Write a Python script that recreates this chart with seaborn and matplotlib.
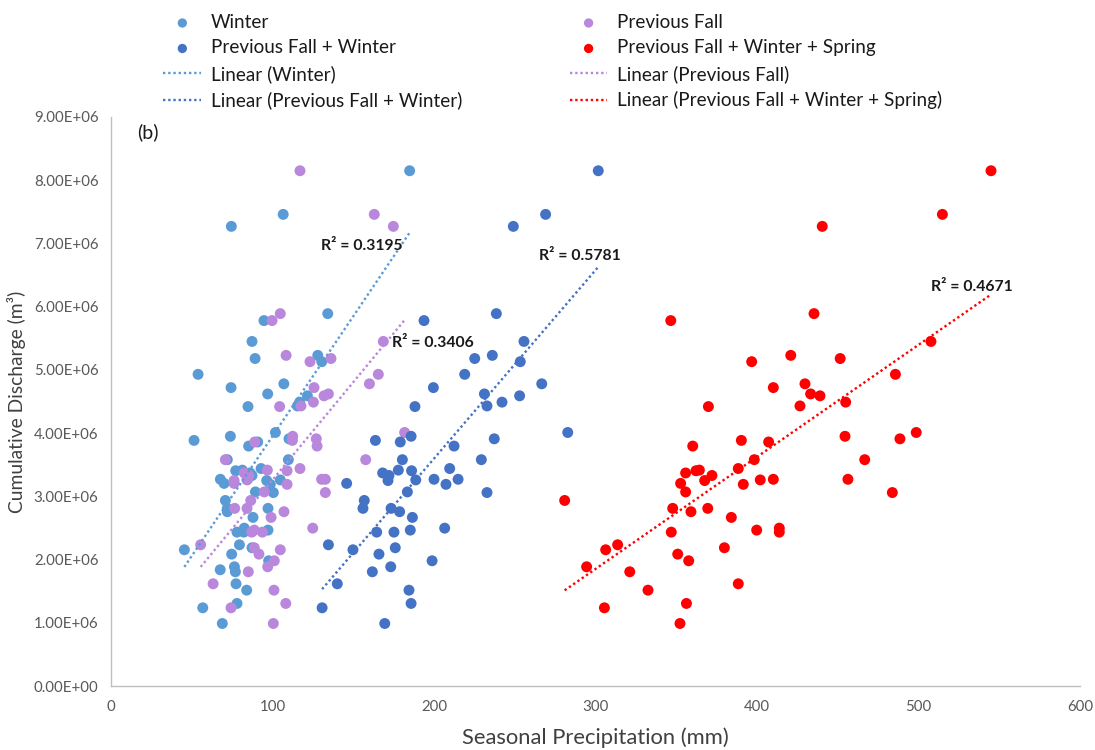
import numpy as np
import pandas as pd
import matplotlib
matplotlib.use("Agg")
import matplotlib.pyplot as plt
from matplotlib.ticker import FuncFormatter, MultipleLocator
import seaborn as sns

# Cumulative discharge per year (m3) and seasonal precipitation totals (mm)
discharge = [8.15e6, 7.46e6, 7.27e6, 5.89e6, 5.78e6, 5.45e6, 5.23e6, 5.18e6, 5.13e6, 4.93e6,
             4.78e6, 4.72e6, 4.62e6, 4.59e6, 4.49e6, 4.43e6, 4.42e6, 4.01e6, 3.95e6, 3.91e6,
             3.885e6, 3.86e6, 3.795e6, 3.58e6, 3.58e6, 3.44e6, 3.415e6, 3.405e6, 3.37e6, 3.33e6,
             3.27e6, 3.27e6, 3.26e6, 3.25e6, 3.205e6, 3.19e6, 3.07e6, 3.06e6, 2.935e6, 2.81e6,
             2.81e6, 2.757e6, 2.667e6, 2.497e6, 2.466e6, 2.434e6, 2.434e6, 2.234e6, 2.187e6, 2.155e6,
             2.086e6, 1.981e6, 1.886e6, 1.807e6, 1.617e6, 1.516e6, 1.306e6, 1.237e6, 0.989e6, 1.839e6]

winter = [184.9, 106.6, 74.5, 134.2, 94.7, 87.3, 128.0, 89.2, 130.5, 53.9,
          107.0, 74.3, 97.0, 121.6, 116.8, 115.4, 84.8, 101.8, 73.9, 110.2,
          51.4, 90.8, 85.2, 72.0, 109.8, 92.9, 81.3, 77.2, 86.1, 87.3,
          67.7, 84.5, 104.8, 96.4, 70.0, 98.6, 89.4, 100.5, 70.8, 72.0,
          97.2, 72.0, 87.9, 82.5, 97.2, 78.0, 82.2, 79.5, 87.3, 45.4,
          74.7, 97.6, 76.4, 77.0, 77.4, 84.0, 78.0, 56.8, 68.9, 67.6]

prev_fall = [117.0, 163.0, 174.8, 104.8, 99.7, 168.6, 108.4, 136.2, 123.2, 165.5,
             160.0, 125.7, 134.6, 131.9, 125.3, 117.6, 104.4, 181.8, 112.5, 127.1,
             112.3, 89.0, 127.6, 157.7, 70.8, 117.0, 96.8, 109.0, 82.5, 85.3,
             132.7, 130.4, 84.2, 76.2, 76.2, 109.0, 94.9, 132.7, 86.5, 84.2,
             76.6, 107.1, 99.1, 124.9, 88.7, 87.1, 93.7, 55.5, 88.7, 104.8,
             91.6, 101.1, 97.0, 85.0, 63.2, 100.9, 108.2, 74.3, 100.5, np.nan]

fall_winter = [301.7, 269.1, 249.1, 238.6, 193.8, 255.7, 236.1, 225.2, 253.4, 219.0,
               266.7, 199.6, 231.2, 253.0, 242.1, 232.8, 188.2, 282.8, 185.8, 237.3,
               163.7, 179.1, 212.4, 229.3, 180.4, 209.7, 177.9, 186.1, 168.2, 172.1,
               200.0, 214.9, 188.7, 171.5, 145.9, 207.4, 183.5, 232.8, 156.8, 156.0,
               173.4, 178.7, 186.6, 206.6, 185.3, 164.5, 175.2, 134.6, 176.0, 149.8,
               165.9, 198.8, 173.2, 161.8, 140.1, 184.5, 185.8, 130.7, 169.5, np.nan]

fall_winter_spring = [544.9, 514.8, 440.4, 435.3, 346.6, 507.7, 420.9, 451.5, 396.7, 485.7,
                      429.7, 410.1, 433.2, 439.0, 454.9, 426.6, 369.9, 498.6, 454.5, 488.5,
                      390.3, 407.2, 360.2, 466.7, 398.3, 388.4, 364.3, 362.2, 355.8, 372.1,
                      410.1, 456.3, 402.0, 367.6, 352.7, 391.5, 355.8, 483.8, 280.9, 347.8,
                      369.5, 359.1, 384.1, 413.8, 399.8, 346.9, 413.8, 313.7, 379.8, 306.3,
                      350.9, 357.7, 294.5, 321.2, 388.4, 332.5, 356.3, 305.5, 352.3, np.nan]

series_names = ["Winter", "Previous Fall", "Previous Fall + Winter", "Previous Fall + Winter + Spring"]
series_colors = ["#5B9BD5", "#B987DC", "#4472C4", "#FF0000"]
r2_labels = ["R\u00b2 = 0.3195", "R\u00b2 = 0.3406", "R\u00b2 = 0.5781", "R\u00b2 = 0.4671"]
r2_pos = [(129.8, 6.955e6), (173.8, 5.425e6), (265.2, 6.808e6), (507.7, 6.311e6)]

df = pd.DataFrame({
    "discharge": discharge,
    "Winter": winter,
    "Previous Fall": prev_fall,
    "Previous Fall + Winter": fall_winter,
    "Previous Fall + Winter + Spring": fall_winter_spring,
})

sns.set_theme(style="white")
plt.rcParams["font.family"] = ["Lato", "DejaVu Sans"]

fig = plt.figure(figsize=(10.95, 7.5), dpi=100)
ax = fig.add_axes([0.1014, 0.0853, 0.8849, 0.7587])

for name, col in zip(series_names, series_colors):
    sub = df[["discharge", name]].dropna()
    sns.scatterplot(data=sub, x=name, y="discharge", color=col, s=62,
                    edgecolor="none", linewidth=0, label=name, ax=ax, zorder=3)

for name, col in zip(series_names, series_colors):
    sub = df[["discharge", name]].dropna()
    sns.regplot(data=sub, x=name, y="discharge", scatter=False, ci=None, truncate=True,
                color=col, ax=ax, label=f"Linear ({name})",
                line_kws=dict(ls=(0, (1, 1.2)), lw=1.7, zorder=4))

for txt, (tx, ty) in zip(r2_labels, r2_pos):
    ax.text(tx, ty, txt, fontsize=11.3, fontweight="bold", color="#1a1a1a",
            ha="left", va="center", zorder=5)

ax.text(16, 8.76e6, "(b)", fontsize=14, color="#1a1a1a", ha="left", va="center")

ax.set_xlim(0, 600)
ax.set_ylim(0, 9e6)
ax.xaxis.set_major_locator(MultipleLocator(100))
ax.yaxis.set_major_locator(MultipleLocator(1e6))
ax.yaxis.set_major_formatter(FuncFormatter(lambda v, p: f"{v:.2E}"))
ax.tick_params(axis="both", length=0, labelsize=10.8, labelcolor="#595959")
ax.tick_params(axis="y", pad=9)
ax.tick_params(axis="x", pad=10)

for side in ["top", "right"]:
    ax.spines[side].set_visible(False)
for side in ["left", "bottom"]:
    ax.spines[side].set_color("#BFBFBF")
    ax.spines[side].set_linewidth(1.0)
ax.grid(False)

ax.set_xlabel("Seasonal Precipitation (mm)", fontsize=15.8, color="#404040", labelpad=10)
ax.set_ylabel("Cumulative Discharge (m\u00b3)", fontsize=13.9, color="#404040")
ax.yaxis.set_label_coords(-0.088, 0.5)

handles, labels = ax.get_legend_handles_labels()
lookup = dict(zip(labels, handles))
order = ["Winter", "Previous Fall + Winter", "Linear (Winter)", "Linear (Previous Fall + Winter)",
         "Previous Fall", "Previous Fall + Winter + Spring", "Linear (Previous Fall)",
         "Linear (Previous Fall + Winter + Spring)"]
ax.legend([lookup[k] for k in order], order, ncol=2, loc="upper left",
          bbox_to_anchor=(154 / 1095, 1 - 4.5 / 750), bbox_transform=fig.transFigure,
          frameon=False, fontsize=13.6, markerscale=0.85, handlelength=2.0,
          handletextpad=0.5, columnspacing=5.7, labelspacing=0.45, borderpad=0,
          labelcolor="#1a1a1a")

fig.savefig("out.png", dpi=100, facecolor="white")
